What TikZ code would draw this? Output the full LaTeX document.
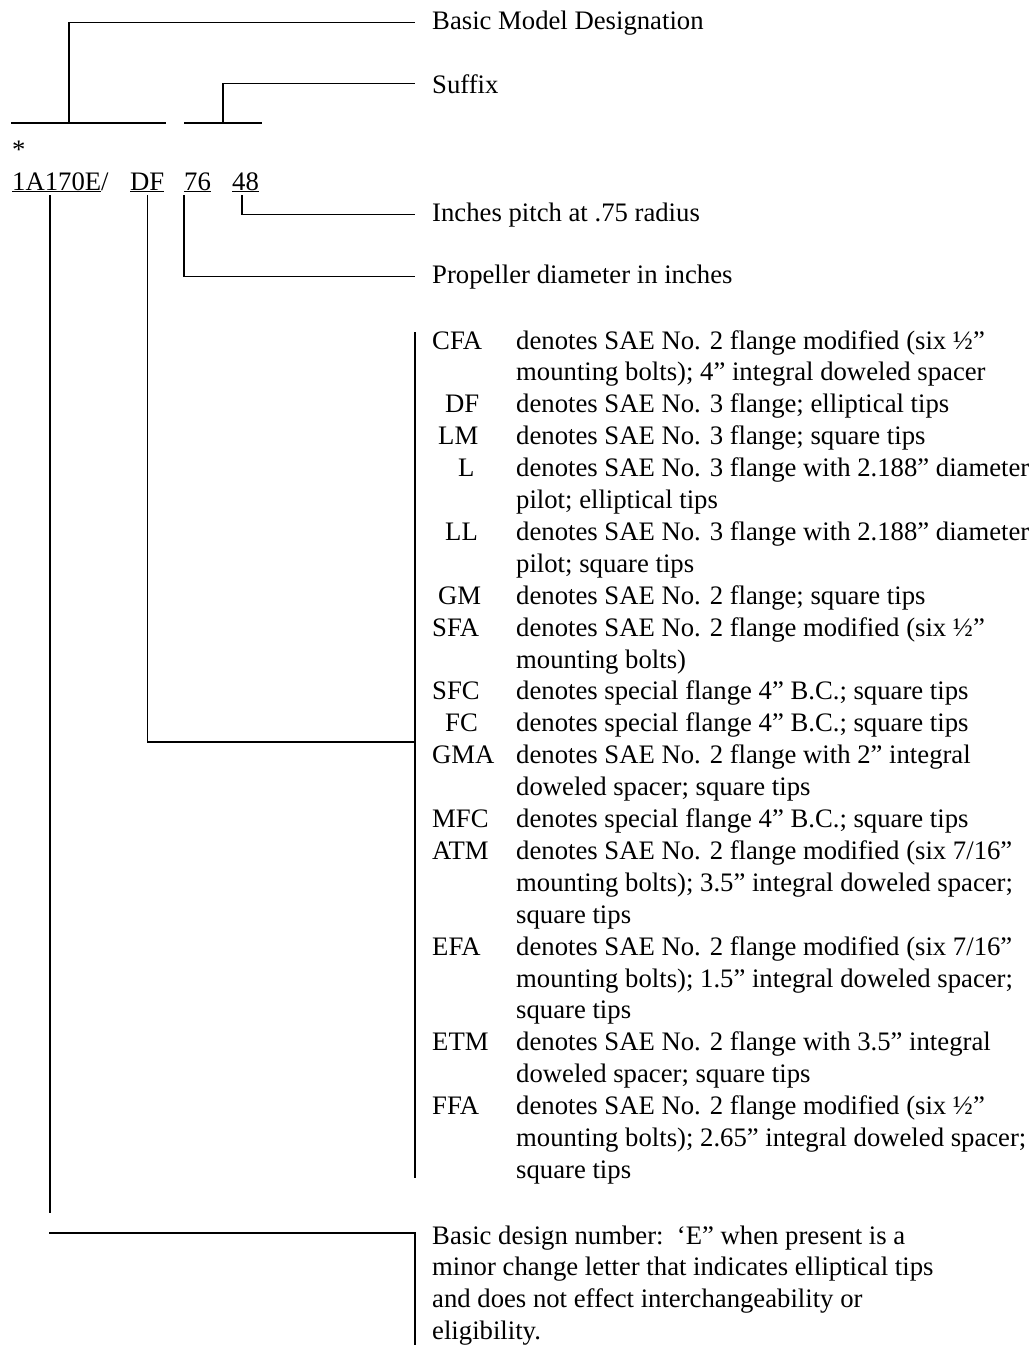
\documentclass[tikz,border=0pt]{standalone}
\usepackage{fontspec}
\setmainfont{Liberation Serif}
\usetikzlibrary{positioning,calc}

\begin{document}
\begin{tikzpicture}[x=1pt, y=-1pt,
  font=\fontsize{26.7}{31.9}\selectfont,
  lbl/.style={inner sep=0pt, anchor=base west},
  ln/.style={line width=1.3pt}]
  \useasboundingbox (0,0) rectangle (1031,1345);
  % model number
  \node[lbl] (star) at (12,158) {*};
  \node[lbl] (mdl) at (12,190) {\underline{1A170E}/};
  \node[lbl] (sfx) at (130,190) {\underline{DF}};
  \node[lbl] (dia) at (184,190) {\underline{76}};
  \node[lbl] (pit) at (232,190) {\underline{48}};
  % labels on the right
  \node[lbl] (bmd) at (432,29) {Basic Model Designation};
  \node[lbl] (suf) at (432,93) {Suffix};
  \node[lbl] (ipr) at (432,221) {Inches pitch at .75 radius};
  \node[lbl] (pdi) at (432,283) {Propeller diameter in inches};
  % suffix list
  \foreach \r/\x/\a in {0/432/CFA, 2/445/DF, 3/438/LM, 4/458/L, 6/445/LL,
      8/438/GM, 9/432/SFA, 11/432/SFC, 12/445/FC, 13/432/GMA, 15/432/MFC,
      16/432/ATM, 19/432/EFA, 22/432/ETM, 24/432/FFA}
    \node[lbl] (a\a) at (\x,{349+31.9*\r}) {\a};
  \foreach \t [count=\i from 0] in {
      {denotes SAE No. 2 flange modified (six ½”},
      {mounting bolts); 4” integral doweled spacer},
      {denotes SAE No. 3 flange; elliptical tips},
      {denotes SAE No. 3 flange; square tips},
      {denotes SAE No. 3 flange with 2.188” diameter},
      {pilot; elliptical tips},
      {denotes SAE No. 3 flange with 2.188” diameter},
      {pilot; square tips},
      {denotes SAE No. 2 flange; square tips},
      {denotes SAE No. 2 flange modified (six ½”},
      {mounting bolts)},
      {denotes special flange 4” B.C.; square tips},
      {denotes special flange 4” B.C.; square tips},
      {denotes SAE No. 2 flange with 2” integral},
      {doweled spacer; square tips},
      {denotes special flange 4” B.C.; square tips},
      {denotes SAE No. 2 flange modified (six 7/16”},
      {mounting bolts); 3.5” integral doweled spacer;},
      {square tips},
      {denotes SAE No. 2 flange modified (six 7/16”},
      {mounting bolts); 1.5” integral doweled spacer;},
      {square tips},
      {denotes SAE No. 2 flange with 3.5” integral},
      {doweled spacer; square tips},
      {denotes SAE No. 2 flange modified (six ½”},
      {mounting bolts); 2.65” integral doweled spacer;},
      {square tips}}
    \node[lbl] (d\i) at (516,{349+31.9*\i}) {\t};
  % basic design note
  \foreach \t [count=\i from 0] in {
      {Basic design number:\ \ ‘E” when present is a},
      {minor change letter that indicates elliptical tips},
      {and does not effect interchangeability or},
      {eligibility.}}
    \node[lbl] (b\i) at (432,{1244+31.9*\i}) {\t};
  % bars and joints
  \coordinate (barA1) at (11,123);  \coordinate (barA2) at (166,123);
  \coordinate (barB1) at (184,123); \coordinate (barB2) at (262,123);
  \coordinate (lstT) at (415,332);  \coordinate (lstB) at (415,1178);
  \coordinate (dfj) at (415,742);
  \coordinate (mdlEnd) at (50,1213);
  \coordinate (bdL) at (49,1233);   \coordinate (bdC) at (415,1233);
  \coordinate (bdB) at (415,1345);
  \draw[ln] (barA1) -- (barA2);
  \draw[ln] (barB1) -- (barB2);
  \draw[ln] (lstT) -- (lstB);
  \draw[ln] ($(barA1)+(58,0)$) |- ($(bmd.west)+(-17,0)$);
  \draw[ln] ($(barB1)+(39,0)$) |- ($(suf.west)+(-17,0)$);
  \draw[ln] ($(pit.south west)+(10,3)$) |- ($(ipr.west)+(-17,0)$);
  \draw[ln] ($(dia.south west)+(0,3)$) |- ($(pdi.west)+(-17,0)$);
  \draw[ln] ($(sfx.south)+(0,3)$) |- (dfj);
  \draw[ln] ($(mdl.south west)+(38,3)$) -- (mdlEnd);
  \draw[ln] (bdL) -- (bdC) -- (bdB);
\end{tikzpicture}
\end{document}
